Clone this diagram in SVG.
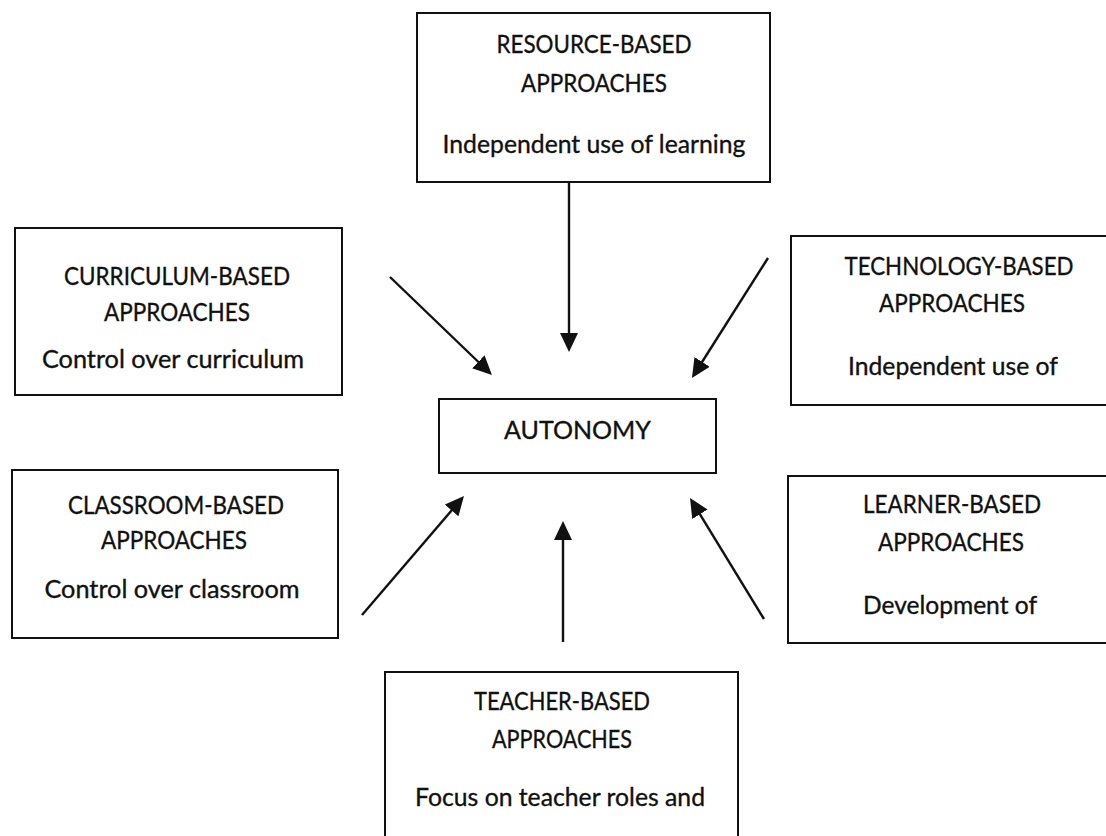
<svg xmlns="http://www.w3.org/2000/svg" width="1106" height="836" viewBox="0 0 1106 836">
  <style>
    .box { fill: #ffffff; stroke: #111111; stroke-width: 2; }
    .t { font-family: Lato, "Liberation Sans", Arial, sans-serif; font-size: 25px; fill: #111111; stroke: #111111; stroke-width: 0.35; text-anchor: middle; }
    .conn { stroke: #111111; stroke-width: 2.4; fill: none; marker-end: url(#ah); }
  </style>
  <defs>
    <marker id="ah" markerUnits="userSpaceOnUse" viewBox="0 0 19 18" markerWidth="19" markerHeight="18" refX="6" refY="9" orient="auto">
      <path d="M0,0 L19,9 L0,18 Z" fill="#111111"/>
    </marker>
  </defs>
  <rect x="0" y="0" width="1106" height="836" fill="#ffffff"/>

  <g id="resource">
    <rect class="box" x="417" y="13" width="353" height="169"/>
    <text class="t" x="594" y="53" textLength="195" lengthAdjust="spacingAndGlyphs">RESOURCE-BASED</text>
    <text class="t" x="594" y="92" textLength="146" lengthAdjust="spacingAndGlyphs">APPROACHES</text>
    <text class="t" x="594" y="153" textLength="303" lengthAdjust="spacingAndGlyphs">Independent use of learning</text>
  </g>

  <g id="curriculum">
    <rect class="box" x="15" y="228" width="327" height="167"/>
    <text class="t" x="177" y="285" textLength="226" lengthAdjust="spacingAndGlyphs">CURRICULUM-BASED</text>
    <text class="t" x="177" y="321" textLength="146" lengthAdjust="spacingAndGlyphs">APPROACHES</text>
    <text class="t" x="173" y="368" textLength="262" lengthAdjust="spacingAndGlyphs">Control over curriculum</text>
  </g>

  <g id="technology">
    <path class="box" d="M1106,236 H791 V405 H1106"/>
    <text class="t" x="959" y="275" textLength="229" lengthAdjust="spacingAndGlyphs">TECHNOLOGY-BASED</text>
    <text class="t" x="952" y="312" textLength="146" lengthAdjust="spacingAndGlyphs">APPROACHES</text>
    <text class="t" x="953" y="375" textLength="210" lengthAdjust="spacingAndGlyphs">Independent use of</text>
  </g>

  <g id="autonomy">
    <rect class="box" x="439" y="399" width="277" height="74"/>
    <text class="t" x="577.5" y="439" textLength="147" lengthAdjust="spacingAndGlyphs">AUTONOMY</text>
  </g>

  <g id="classroom">
    <rect class="box" x="12" y="470" width="326" height="168"/>
    <text class="t" x="176" y="514" textLength="216" lengthAdjust="spacingAndGlyphs">CLASSROOM-BASED</text>
    <text class="t" x="174" y="549" textLength="146" lengthAdjust="spacingAndGlyphs">APPROACHES</text>
    <text class="t" x="172" y="598" textLength="255" lengthAdjust="spacingAndGlyphs">Control over classroom</text>
  </g>

  <g id="learner">
    <path class="box" d="M1106,476 H788 V643 H1106"/>
    <text class="t" x="952" y="513" textLength="178" lengthAdjust="spacingAndGlyphs">LEARNER-BASED</text>
    <text class="t" x="951" y="551" textLength="146" lengthAdjust="spacingAndGlyphs">APPROACHES</text>
    <text class="t" x="950" y="614" textLength="174" lengthAdjust="spacingAndGlyphs">Development of</text>
  </g>

  <g id="teacher">
    <path class="box" d="M385,836 V672 H738 V836"/>
    <text class="t" x="562" y="710" textLength="176" lengthAdjust="spacingAndGlyphs">TEACHER-BASED</text>
    <text class="t" x="562" y="748" textLength="140" lengthAdjust="spacingAndGlyphs">APPROACHES</text>
    <text class="t" x="560" y="806" textLength="290" lengthAdjust="spacingAndGlyphs">Focus on teacher roles and</text>
  </g>

  <g id="connectors">
    <line class="conn" x1="569" y1="182" x2="569" y2="339"/>
    <line class="conn" x1="390" y1="277" x2="482.6" y2="366"/>
    <line class="conn" x1="768" y1="258" x2="698.9" y2="367"/>
    <line class="conn" x1="362" y1="615" x2="455.5" y2="505.9"/>
    <line class="conn" x1="563" y1="642" x2="563" y2="534"/>
    <line class="conn" x1="764" y1="619" x2="696.8" y2="509.1"/>
  </g>
</svg>
